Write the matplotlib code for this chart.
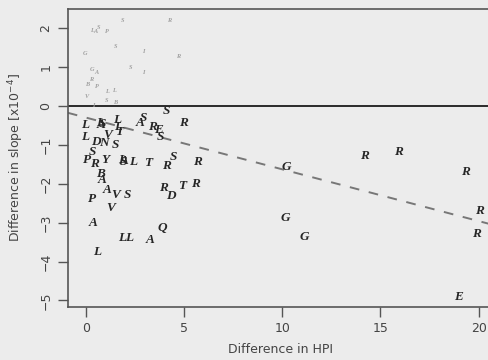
import matplotlib.pyplot as plt

# main (dark) points: letter, HPI difference, slope difference (x1e-4)
letters = ["L", "L", "S", "A", "L", "L", "T", "S", "A", "R", "E", "S", "S", "R",
           "L", "V", "D", "N", "S", "S", "P", "R", "Y", "L", "A", "S", "L", "T",
           "R", "S", "R", "B", "A", "A", "V", "S", "P", "V", "A", "L", "L", "A",
           "Q", "L", "R", "D", "T", "R", "G", "G", "G", "R", "R", "R", "R", "R", "E"]
hpi = [-0.05, 0.72, 0.85, 0.78, 1.59, 1.64, 1.69, 2.92, 2.77, 3.38, 3.69, 3.79, 4.10, 4.97,
       -0.05, 1.13, 0.51, 0.92, 1.49, 0.31, 0.05, 0.46, 0.97, 1.85, 1.95, 1.90, 2.41, 3.18,
       4.10, 4.46, 5.69, 0.77, 0.82, 1.08, 1.49, 2.10, 0.31, 1.28, 0.36, 1.85, 2.21, 3.28,
       3.90, 0.56, 3.95, 4.31, 4.92, 5.59, 10.21, 10.15, 11.13, 14.21, 15.90, 19.33, 20.05, 19.90, 18.97]
slope = [-0.49, -0.44, -0.46, -0.50, -0.36, -0.54, -0.67, -0.31, -0.44, -0.54, -0.62, -0.80, -0.13, -0.44,
         -0.80, -0.75, -0.93, -0.95, -1.00, -1.18, -1.39, -1.49, -1.39, -1.39, -1.42, -1.45, -1.44, -1.47,
         -1.54, -1.31, -1.44, -1.75, -1.90, -2.16, -2.29, -2.29, -2.39, -2.62, -3.01, -3.39, -3.39, -3.44,
         -3.14, -3.75, -2.11, -2.31, -2.06, -2.01, -1.57, -2.88, -3.37, -1.29, -1.18, -1.70, -2.70, -3.29, -4.91]

# faint small letters above zero
faint_letters = ["S", "R", "L", "A", "S", "P", "G", "S", "I", "R", "S", "I",
                 "G", "A", "R", "B", "P", "L", "L", "V", "S", "B", "I"]
faint_hpi = [1.85, 4.26, 0.31, 0.46, 0.67, 1.08, -0.05, 1.54, 2.92, 4.67, 2.26, 2.92,
             0.31, 0.51, 0.26, 0.05, 0.56, 1.08, 1.44, 0.05, 1.08, 1.49, 0.36]
faint_slope = [2.19, 2.19, 1.93, 1.90, 2.01, 1.90, 1.34, 1.52, 1.39, 1.26, 0.98, 0.87,
               0.93, 0.87, 0.67, 0.54, 0.49, 0.36, 0.39, 0.23, 0.15, 0.10, 0.0]

# fitted trend line
fit_x = [-0.92, 21.0]
fit_y = [-0.30 - 0.133 * v for v in fit_x]

bg = "#ececec"
fig = plt.figure(figsize=(4.88, 3.6), dpi=100, facecolor=bg)
ax = fig.add_axes([0.139, 0.147, 0.87, 0.828], facecolor=bg)

ax.axhline(0, color="#2a2a2a", lw=1.4)
ax.plot(fit_x, fit_y, color="#777777", lw=1.4, ls=(0, (5, 5)))

for t, x, y in zip(letters, hpi, slope):
    ax.text(x, y, t, fontsize=9.5, family="Liberation Serif", weight="bold",
            style="italic", color="#262626", ha="center", va="center")
for t, x, y in zip(faint_letters, faint_hpi, faint_slope):
    ax.text(x, y, t, fontsize=4.5, family="Liberation Serif", weight="bold",
            style="italic", color="#a0a0a0", ha="center", va="center")

ax.set_xlim(-0.92, 20.7)
ax.set_ylim(-5.17, 2.49)
ax.set_xticks([0, 5, 10, 15, 20])
ax.set_yticks([-5, -4, -3, -2, -1, 0, 1, 2])
ax.set_yticklabels(["\u22125", "\u22124", "\u22123", "\u22122", "\u22121", "0", "1", "2"],
                   rotation=90, va="center")
ax.tick_params(direction="out", length=7, width=1, colors="#555555",
               labelcolor="#444444", labelsize=9)
ax.tick_params(axis="y", pad=4)
for s in ["left", "bottom", "top"]:
    ax.spines[s].set_color("#555555")
    ax.spines[s].set_linewidth(1.2)
ax.spines["right"].set_visible(False)

ax.set_xlabel("Difference in HPI", fontsize=9, color="#444444", labelpad=6)
ax.set_ylabel("Difference in slope [x10$^{-4}$]", fontsize=9, color="#444444", labelpad=10)

fig.savefig("out.png", dpi=100, facecolor=bg)
